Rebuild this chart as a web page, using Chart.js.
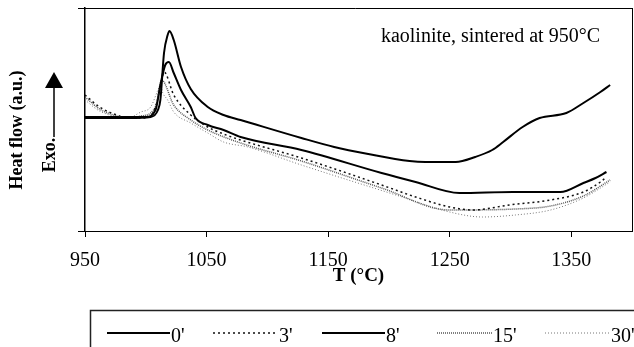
<!DOCTYPE html>
<html>
<head>
<meta charset="utf-8">
<script src="https://cdn.jsdelivr.net/npm/chart.js@4"></script>
<style>
  html, body { margin: 0; padding: 0; background: #fff; overflow: hidden; }
  #wrap { width: 634px; height: 347px; position: relative; }
</style>
</head>
<body>
<div id="wrap"><canvas id="c" width="634" height="347"></canvas></div>
<script>
// ---- data (y in arbitrary units) ----
const seriesLabels = ["0'", "3'", "8'", "15'", "30'"];
const xTickValues = [950, 1050, 1150, 1250, 1350];
const chartTitle = "kaolinite, sintered at 950°C";

const temp0 = [950, 987, 1004, 1010, 1012, 1015, 1018, 1019.5, 1023, 1029, 1037, 1051, 1064, 1078, 1128, 1155, 1183, 1217, 1230, 1255, 1271, 1285, 1294, 1310, 1324, 1346, 1360, 1374, 1382];
const heat0 = [113, 113, 114, 121, 131, 178, 196, 200, 191, 164, 142, 124, 116, 111, 93, 84, 77, 70, 69, 69, 74, 81, 89, 104, 113, 118, 128, 139, 146];

const temp3 = [950, 962, 976, 985, 1000, 1008, 1012, 1015, 1023, 1037, 1051, 1064, 1078, 1128, 1194, 1222, 1250, 1269, 1299, 1333, 1360, 1374, 1379];
const heat3 = [136, 124, 116, 113, 113, 124, 144, 159, 136, 116, 104, 97, 91, 73, 46, 34, 24, 21, 26, 31, 39, 49, 54];

const temp8 = [950, 1000, 1008, 1012, 1016, 1019, 1023, 1029, 1037, 1041, 1051, 1064, 1078, 1128, 1194, 1222, 1258, 1302, 1341, 1360, 1370, 1379];
const heat8 = [114, 114, 121, 146, 166, 169, 158, 141, 124, 113, 106, 101, 94, 81, 58, 49, 38, 39, 39, 48, 53, 59];

const temp15 = [950, 962, 976, 985, 996, 1004, 1009, 1013, 1023, 1037, 1051, 1078, 1128, 1194, 1250, 1304, 1333, 1360, 1382];
const heat15 = [134, 122, 115, 113, 115, 118, 128, 151, 126, 111, 101, 88, 70, 43, 21, 22, 25, 35, 51];

const temp30 = [950, 962, 985, 996, 1004, 1010, 1012, 1014, 1018, 1023, 1037, 1051, 1064, 1084, 1128, 1211, 1250, 1277, 1304, 1333, 1360, 1382];
const heat30 = [131, 120, 113, 119, 124, 141, 146, 138, 131, 119, 108, 98, 89, 84, 66, 34, 19, 14, 16, 21, 33, 49];

function pts(xs, ys) { return xs.map((x, i) => ({ x: x, y: ys[i] })); }

const SERIF = "'Liberation Serif', 'Times New Roman', serif";

const datasets = [
  { label: seriesLabels[0], data: pts(temp0, heat0), borderColor: '#000', borderWidth: 2, borderDash: [] },
  { label: seriesLabels[1], data: pts(temp3, heat3), borderColor: '#111', borderWidth: 1.5, borderDash: [2, 3] },
  { label: seriesLabels[2], data: pts(temp8, heat8), borderColor: '#000', borderWidth: 2, borderDash: [] },
  { label: seriesLabels[3], data: pts(temp15, heat15), borderColor: '#555', borderWidth: 1.5, borderDash: [1, 1] },
  { label: seriesLabels[4], data: pts(temp30, heat30), borderColor: '#777', borderWidth: 1, borderDash: [1, 2] }
].map(d => Object.assign(d, { pointRadius: 0, fill: false, cubicInterpolationMode: 'monotone' }));

const decorPlugin = {
  id: 'decor',
  afterDraw(chart) {
    const ctx = chart.ctx;
    const xs = chart.scales.x, ys = chart.scales.y;
    const L = xs.getPixelForValue(950);
    const R = xs.getPixelForValue(1400);
    const T = ys.getPixelForValue(223);
    const B = ys.getPixelForValue(0);
    ctx.save();
    ctx.setLineDash([]);
    // top and right border of plot
    ctx.strokeStyle = '#000';
    ctx.lineWidth = 1;
    ctx.beginPath();
    ctx.moveTo(L - 7, Math.round(T) + 0.5);
    ctx.lineTo(R + 0.5, Math.round(T) + 0.5);
    ctx.moveTo(Math.round(R) + 0.5, T);
    ctx.lineTo(Math.round(R) + 0.5, B);
    ctx.stroke();

    // in-plot title
    ctx.fillStyle = '#000';
    ctx.font = '20px ' + SERIF;
    ctx.textAlign = 'right';
    ctx.textBaseline = 'alphabetic';
    ctx.fillText(chartTitle, 600, 42);

    // y-axis title
    ctx.save();
    ctx.translate(22, 130);
    ctx.rotate(-Math.PI / 2);
    ctx.font = 'bold 18px ' + SERIF;
    ctx.textAlign = 'center';
    ctx.textBaseline = 'alphabetic';
    ctx.fillText('Heat flow (a.u.)', 0, 0);
    ctx.restore();

    ctx.save();
    ctx.translate(55, 155);
    ctx.rotate(-Math.PI / 2);
    ctx.font = 'bold 18px ' + SERIF;
    ctx.textAlign = 'center';
    ctx.textBaseline = 'alphabetic';
    ctx.fillText('Exo.', 0, 0);
    ctx.restore();

    // arrow
    ctx.lineWidth = 1.5;
    ctx.beginPath();
    ctx.moveTo(54, 137);
    ctx.lineTo(54, 85);
    ctx.stroke();
    ctx.beginPath();
    ctx.moveTo(54, 72);
    ctx.lineTo(45, 88);
    ctx.lineTo(63, 88);
    ctx.closePath();
    ctx.fill();

    // legend box
    ctx.strokeStyle = '#222';
    ctx.lineWidth = 1.5;
    ctx.beginPath();
    ctx.moveTo(90.5, 360);
    ctx.lineTo(90.5, 310.5);
    ctx.lineTo(640, 310.5);
    ctx.stroke();

    const starts = [107, 213, 322, 437, 545];
    const lens = [63, 65, 63, 55, 65];
    const ly = 333;
    chart.data.datasets.forEach((ds, i) => {
      ctx.strokeStyle = ds.borderColor;
      ctx.lineWidth = ds.borderWidth;
      ctx.setLineDash(ds.borderDash || []);
      ctx.beginPath();
      ctx.moveTo(starts[i], ly);
      ctx.lineTo(starts[i] + lens[i], ly);
      ctx.stroke();
      ctx.setLineDash([]);
      ctx.fillStyle = '#000';
      ctx.font = '20px ' + SERIF;
      ctx.textAlign = 'left';
      ctx.textBaseline = 'alphabetic';
      ctx.fillText(ds.label, starts[i] + lens[i] + 1, 342);
    });
    ctx.restore();
  }
};

new Chart(document.getElementById('c'), {
  type: 'line',
  data: { datasets: datasets },
  plugins: [decorPlugin],
  options: {
    responsive: false,
    animation: false,
    layout: { padding: { left: 0, right: 2, top: 8, bottom: 0 } },
    plugins: { legend: { display: false }, tooltip: { enabled: false } },
    scales: {
      x: {
        type: 'linear',
        min: 950,
        max: 1400,
        afterFit(scale) { scale.height = 116; },
        afterBuildTicks(scale) { scale.ticks = xTickValues.map(v => ({ value: v })); },
        border: { display: true, color: '#000', width: 1 },
        grid: { drawOnChartArea: false, drawTicks: true, tickLength: 6, color: '#000' },
        ticks: { color: '#000', font: { family: SERIF, size: 20 }, padding: 12, maxRotation: 0, autoSkip: false,
                 callback: (v) => String(v) },
        title: { display: true, text: 'T (°C)', color: '#000', font: { family: SERIF, size: 19, weight: 'bold' }, padding: { top: 0, bottom: 60 } }
      },
      y: {
        type: 'linear',
        min: 0,
        max: 223,
        afterFit(scale) { scale.width = 85; },
        afterBuildTicks(scale) { scale.ticks = [{ value: 0 }, { value: 223 }]; },
        border: { display: true, color: '#000', width: 1.5 },
        grid: { drawOnChartArea: false, drawTicks: true, tickLength: 7, color: '#000' },
        ticks: { display: false }
      }
    }
  }
});
</script>
</body>
</html>
